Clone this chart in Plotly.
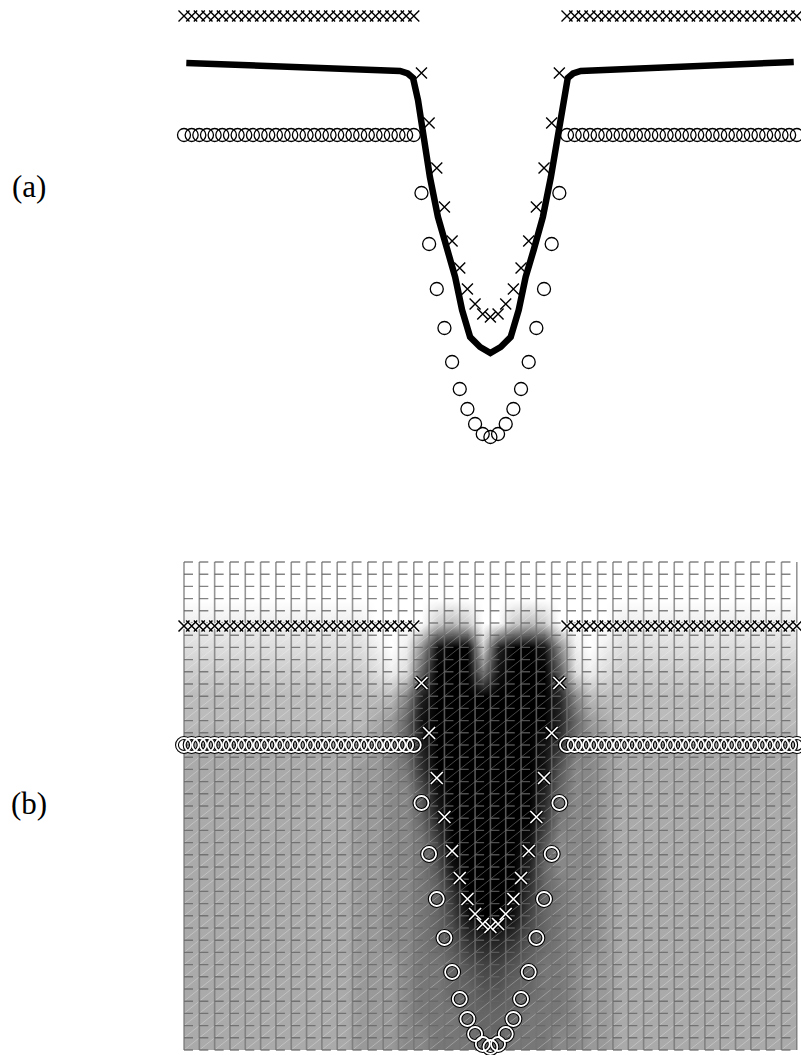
import plotly.graph_objects as go

# ---------------- data ----------------
# mesh node positions along the surface (mesh units, 0 = centre line)
node_x = list(range(-40, 41))

# depth of the "x" markers (one per mesh node)
cross_depth = [16, 16, 16, 16, 16, 16, 16, 16, 16, 16, 16, 16, 16, 16, 16, 16,
               16, 16, 16, 16, 16, 16, 16, 16, 16, 16, 16, 16, 16, 16, 16,
               73, 123, 168, 207, 241, 268, 289, 304, 314, 317, 314, 304, 289,
               268, 241, 207, 168, 123, 73,
               16, 16, 16, 16, 16, 16, 16, 16, 16, 16, 16, 16, 16, 16, 16, 16,
               16, 16, 16, 16, 16, 16, 16, 16, 16, 16, 16, 16, 16, 16, 16]

# depth of the "o" markers (one per mesh node)
circle_depth = [135, 135, 135, 135, 135, 135, 135, 135, 135, 135, 135, 135, 135,
                135, 135, 135, 135, 135, 135, 135, 135, 135, 135, 135, 135, 135,
                135, 135, 135, 135, 135,
                193, 244, 289, 328, 362, 389, 409, 424, 434, 437, 434, 424, 409,
                389, 362, 328, 289, 244, 193,
                135, 135, 135, 135, 135, 135, 135, 135, 135, 135, 135, 135, 135,
                135, 135, 135, 135, 135, 135, 135, 135, 135, 135, 135, 135, 135,
                135, 135, 135, 135, 135]

# thick profile line of panel (a)
line_x = [-39.7, -11.8, -10.8, -10.1, -9.45, -8.8, -7.9, -6.85, -5.65, -4.6,
          -3.7, -2.65, -1.35, 0.0, 1.35, 2.65, 3.7, 4.6, 5.65, 6.85, 7.9, 8.8,
          9.45, 10.1, 10.8, 11.8, 39.6]
line_depth = [63, 71, 73.5, 78, 100, 133, 177, 217, 250, 277, 310, 337, 347,
              353, 347, 337, 310, 277, 250, 217, 177, 133, 100, 78, 73.5, 71, 62]

# grey level field of panel (b): 20 rows x 40 columns, hex digit -> grey*17
field_rows = [
    "ffffffffffffffffffffffffffffffffffffffff",
    "ffffffffffffffffffffffffffffffffffffffff",
    "eeeeeeeeeeeeffffcbcffcbcffffeeeeeeeeeeee",
    "ddddddddddddefe9100c20018efedddddddddddd",
    "ccccccccccccded6000710005dedcccccccccccc",
    "bbbbbbbbbbbbbb820000000028bbbbbbbbbbbbbb",
    "bbbbbbbbbbbba96100000000269abbbbbbbbbbbb",
    "aaaaaaaaaaaa9862000000013789aaaaaaaaaaaa",
    "aaaaaaaaaaa99873000000015889aaaaaaaaaaaa",
    "aaaaaaaaaaa99885100000026889aaaaaaaaaaaa",
    "aaaaaaaaaaa99886200000037889aaaaaaaaaaaa",
    "aaaaaaaaaaa99887400000158889aaaaaaaaaaaa",
    "aaaaaaaaaaa99887510000268889aaaaaaaaaaaa",
    "aaaaaaaaaaa99887630000367889aaaaaaaaaaaa",
    "aaaaaaaaaaa99887641001467889aaaaaaaaaaaa",
    "aaaaaaaaaaa99887653223567889aaaaaaaaaaaa",
    "aaaaaaaaaaa99987765445677899aaaaaaaaaaaa",
    "aaaaaaaaaaa99987766556677899aaaaaaaaaaaa",
    "aaaaaaaaaaa99987776666777899aaaaaaaaaaaa",
    "aaaaaaaaaaa99988777667778899aaaaaaaaaaaa",
]

# mesh geometry of panel (b)
mesh_x0, mesh_dx, mesh_nx = -40, 2.0, 40
mesh_d0, mesh_dd, mesh_nd = -48.0, 12.2, 40

# ---------------- build ----------------
HEX = "0123456789abcdef"
z = [[HEX.index(ch) * 17 for ch in row] for row in field_rows]
hm_x = [mesh_x0 + mesh_dx * (c + 0.5) for c in range(40)]
hm_y = [mesh_d0 + 2 * mesh_dd * (r + 0.5) for r in range(20)]

def nx(i):
    return mesh_x0 + mesh_dx * i

def nd(k):
    return mesh_d0 + mesh_dd * k

x_end, d_end = nx(mesh_nx), nd(mesh_nd)
vx, vy, hx, hy, gx, gy = [], [], [], [], [], []
for i in range(mesh_nx + 1):
    vx += [nx(i), nx(i), None]
    vy += [mesh_d0, d_end, None]
for k in range(mesh_nd + 1):
    hx += [mesh_x0, x_end, None]
    hy += [nd(k), nd(k), None]
for s in range(1, mesh_nx + mesh_nd):
    i0 = max(0, s - mesh_nd)
    i1 = min(mesh_nx, s)
    gx += [nx(i0), nx(i1), None]
    gy += [nd(s - i0), nd(s - i1), None]

row_idx = [i for i in range(len(node_x)) if i <= 30 or i >= 50]
v_idx = [i for i in range(len(node_x)) if 30 < i < 50]

fig = go.Figure()

# ----- panel (a) -----
fig.add_trace(go.Scatter(x=line_x, y=line_depth, mode="lines",
                         line=dict(color="black", width=6.5),
                         xaxis="x", yaxis="y", hoverinfo="skip"))
fig.add_trace(go.Scatter(x=node_x, y=circle_depth, mode="markers",
                         marker=dict(symbol="circle-open", size=13, color="black",
                                     line=dict(color="black", width=1.3)),
                         cliponaxis=False, xaxis="x", yaxis="y"))
fig.add_trace(go.Scatter(x=node_x, y=cross_depth, mode="markers",
                         marker=dict(symbol="x-thin", size=11, color="black",
                                     line=dict(color="black", width=1.4)),
                         cliponaxis=False, xaxis="x", yaxis="y"))

# ----- panel (b) -----
fig.add_trace(go.Heatmap(x=hm_x, y=hm_y, z=z, zmin=0, zmax=255,
                         colorscale=[[0, "black"], [1, "white"]],
                         zsmooth="best", showscale=False,
                         xaxis="x", yaxis="y2", hoverinfo="skip"))
fig.add_trace(go.Scatter(x=gx, y=gy, mode="lines",
                         line=dict(color="rgba(255,255,255,0.35)", width=0.8),
                         xaxis="x", yaxis="y2", hoverinfo="skip"))
fig.add_trace(go.Scatter(x=vx, y=vy, mode="lines",
                         line=dict(color="rgba(115,115,115,0.75)", width=1.6),
                         xaxis="x", yaxis="y2", hoverinfo="skip"))
fig.add_trace(go.Scatter(x=hx, y=hy, mode="lines",
                         line=dict(color="rgba(100,100,100,0.8)", width=1.4,
                                   dash="9px,6.32px"),
                         xaxis="x", yaxis="y2", hoverinfo="skip"))

bx_row = [node_x[i] for i in row_idx]
bd_row = [cross_depth[i] for i in row_idx]
bx_v = [node_x[i] for i in v_idx]
bd_v = [cross_depth[i] for i in v_idx]

fig.add_trace(go.Scatter(x=node_x, y=circle_depth, mode="markers",
                         marker=dict(symbol="circle-open", size=14, color="black",
                                     line=dict(color="black", width=4)),
                         cliponaxis=False, xaxis="x", yaxis="y2"))
fig.add_trace(go.Scatter(x=node_x, y=circle_depth, mode="markers",
                         marker=dict(symbol="circle-open", size=14, color="white",
                                     line=dict(color="white", width=1.8)),
                         cliponaxis=False, xaxis="x", yaxis="y2"))
fig.add_trace(go.Scatter(x=bx_row, y=bd_row, mode="markers",
                         marker=dict(symbol="x-thin", size=11, color="white",
                                     line=dict(color="white", width=3.5)),
                         cliponaxis=False, xaxis="x", yaxis="y2"))
fig.add_trace(go.Scatter(x=bx_row, y=bd_row, mode="markers",
                         marker=dict(symbol="x-thin", size=11, color="black",
                                     line=dict(color="black", width=1.5)),
                         cliponaxis=False, xaxis="x", yaxis="y2"))
fig.add_trace(go.Scatter(x=bx_v, y=bd_v, mode="markers",
                         marker=dict(symbol="x-thin", size=12, color="black",
                                     line=dict(color="black", width=4)),
                         cliponaxis=False, xaxis="x", yaxis="y2"))
fig.add_trace(go.Scatter(x=bx_v, y=bd_v, mode="markers",
                         marker=dict(symbol="x-thin", size=12, color="white",
                                     line=dict(color="white", width=1.6)),
                         cliponaxis=False, xaxis="x", yaxis="y2"))

W, H = 801, 1055
fig.update_layout(
    width=W, height=H, margin=dict(l=0, r=0, t=0, b=0),
    paper_bgcolor="white", plot_bgcolor="rgba(0,0,0,0)", showlegend=False,
    xaxis=dict(range=[-490.4 / 7.66, (W - 490.4) / 7.66], domain=[0, 1],
               visible=False, fixedrange=True),
    yaxis=dict(domain=[1 - 460 / H, 1], range=[460, 0], visible=False,
               anchor="x", fixedrange=True),
    yaxis2=dict(domain=[0, 1 - 552 / H], range=[445, -58], visible=False,
                anchor="x", fixedrange=True),
    annotations=[
        dict(text="(a)", x=29 / W, y=1 - 187 / H, xref="paper", yref="paper",
             showarrow=False, xanchor="center", yanchor="middle",
             font=dict(family="Liberation Serif", size=31, color="black")),
        dict(text="(b)", x=29 / W, y=1 - 803 / H, xref="paper", yref="paper",
             showarrow=False, xanchor="center", yanchor="middle",
             font=dict(family="Liberation Serif", size=31, color="black")),
    ],
)

fig.write_html("out.html")
